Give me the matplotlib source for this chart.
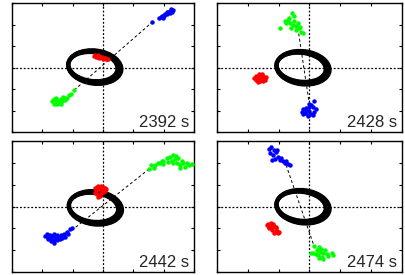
import matplotlib
matplotlib.use("Agg")
import matplotlib.pyplot as plt
from matplotlib.patches import Ellipse
from matplotlib.transforms import Affine2D

plt.rcParams['font.family'] = ['Liberation Sans', 'DejaVu Sans']

# ---------------- data (axis units, range -3..3) ----------------
labels = ["2392 s", "2428 s", "2442 s", "2474 s"]

# panel 1
blue1_x = [1.63, 1.85, 1.90, 1.95, 2.0, 2.05, 2.1, 2.15, 2.2, 2.25, 2.3, 2.0, 2.1, 2.2, 2.28, 1.97, 2.12, 2.24]
blue1_y = [2.12, 2.28, 2.35, 2.38, 2.45, 2.5, 2.55, 2.6, 2.62, 2.65, 2.68, 2.4, 2.48, 2.55, 2.6, 2.32, 2.6, 2.7]
red1_x = [-0.30, -0.25, -0.2, -0.15, -0.1, -0.05, 0.0, 0.05, 0.1, 0.15, -0.22, -0.12, -0.02, 0.08, -0.18, 0.0]
red1_y = [0.55, 0.58, 0.52, 0.56, 0.5, 0.48, 0.45, 0.42, 0.4, 0.38, 0.48, 0.44, 0.5, 0.45, 0.5, 0.38]
green1_x = [-1.68, -1.62, -1.55, -1.5, -1.45, -1.4, -1.35, -1.3, -1.25, -1.6, -1.5, -1.42, -1.32, -1.2, -1.12, -1.05, -0.96, -1.55, -1.38]
green1_y = [-1.55, -1.48, -1.6, -1.5, -1.65, -1.45, -1.55, -1.4, -1.5, -1.7, -1.72, -1.62, -1.35, -1.42, -1.3, -1.25, -1.06, -1.4, -1.68]
line1_x = [-0.95, 1.6]
line1_y = [-1.05, 2.08]

# panel 2
green2_x = [-0.56, -0.49, -0.81, -0.70, -0.63, -0.54, -0.43, -0.33, -0.27, -0.22, -0.95, -0.76, -0.60, -0.43, -0.38, -0.30, -0.65, -0.49]
green2_y = [2.54, 2.38, 2.17, 2.20, 2.08, 1.97, 1.92, 1.82, 1.66, 1.62, 1.82, 2.05, 1.82, 1.74, 2.05, 1.89, 2.28, 2.17]
red2_x = [-1.8, -1.75, -1.7, -1.65, -1.6, -1.55, -1.5, -1.45, -1.4, -1.7, -1.6, -1.5, -1.65, -1.55, -1.75, -1.45, -1.6, -1.68, -1.52]
red2_y = [-0.48, -0.38, -0.6, -0.45, -0.35, -0.55, -0.42, -0.5, -0.45, -0.52, -0.65, -0.62, -0.3, -0.3, -0.58, -0.58, -0.48, -0.68, -0.38]
blue2_x = [0.13, 0.05, 0.0, -0.1, -0.2, -0.25, -0.15, -0.05, 0.05, 0.15, 0.2, -0.1, 0.0, 0.1, -0.2, -0.05, 0.1, 0.0]
blue2_y = [-1.57, -1.75, -1.85, -1.9, -1.95, -2.05, -2.1, -2.2, -2.15, -2.05, -1.95, -2.0, -2.0, -1.85, -2.15, -2.25, -2.2, -1.7]
line2_x = [-0.35, -0.02]
line2_y = [1.58, -1.57]

# panel 3
green3_x = [1.53, 1.71, 1.88, 1.99, 1.57, 1.68, 1.82, 1.93, 1.97, 2.10, 2.15, 2.21, 2.26, 2.32, 2.37, 2.43, 2.48,
            2.54, 2.59, 2.65, 2.70, 2.78, 2.85, 2.92, 2.54, 2.30, 2.41]
green3_y = [1.73, 1.89, 1.99, 2.08, 1.90, 1.75, 1.98, 2.10, 1.95, 2.21, 2.05, 2.25, 2.10, 2.36, 2.16, 1.98, 2.21,
            1.90, 2.10, 1.98, 1.82, 2.00, 1.90, 1.95, 1.75, 2.00, 2.31]
red3_x = [-0.25, -0.2, -0.15, -0.1, -0.05, 0.0, 0.05, 0.1, -0.22, -0.12, -0.02, 0.08, -0.28, -0.2, -0.1, -0.05, -0.15, 0.0]
red3_y = [0.85, 0.9, 0.95, 0.9, 0.92, 0.88, 0.85, 0.82, 0.75, 0.78, 0.75, 0.72, 0.62, 0.55, 0.5, 0.6, 0.42, 0.65]
blue3_x = [-1.9, -1.85, -1.8, -1.75, -1.7, -1.65, -1.6, -1.55, -1.5, -1.45, -1.4, -1.35, -1.8, -1.7, -1.6, -1.5,
           -1.3, -1.25, -1.2, -1.15, -1.1, -1.02, -1.62, -1.42]
blue3_y = [-1.35, -1.28, -1.42, -1.3, -1.45, -1.35, -1.52, -1.4, -1.55, -1.38, -1.3, -1.45, -1.5, -1.6, -1.65, -1.3,
           -1.25, -1.38, -1.15, -1.28, -1.05, -0.98, -1.25, -1.5]
line3_x = [-1.04, 1.54]
line3_y = [-1.10, 1.74]

# panel 4
blue4_x = [-1.31, -1.24, -1.16, -1.29, -1.18, -1.08, -1.02, -1.13, -0.97, -0.86, -0.80, -0.70, -0.64, -1.21, -0.91, -0.75, -1.05]
blue4_y = [2.65, 2.73, 2.57, 2.45, 2.34, 2.50, 2.27, 2.19, 2.11, 2.08, 1.99, 1.96, 1.89, 2.11, 2.24, 2.08, 2.60]
red4_x = [-1.38, -1.35, -1.3, -1.25, -1.2, -1.15, -1.1, -1.05, -1.0, -1.3, -1.2, -1.12, -1.25, -1.15, -1.08, -1.02, -1.32, -1.18]
red4_y = [-0.85, -0.78, -0.92, -0.82, -0.95, -0.88, -1.0, -1.1, -1.15, -1.0, -1.08, -1.18, -0.75, -1.2, -0.95, -1.22, -0.95, -0.8]
green4_x = [0.04, 0.12, 0.23, 0.29, 0.34, 0.40, 0.45, 0.50, 0.32, 0.43, 0.56, 0.61, 0.72, 0.77, 0.21, 0.36, 0.15, 0.30]
green4_y = [-2.14, -2.12, -1.99, -2.22, -2.07, -2.30, -2.14, -1.99, -2.37, -2.42, -2.18, -2.27, -2.14, -2.24, -2.18, -1.96, -1.80, -1.85]
line4_x = [-0.76, 0.16]
line4_y = [1.90, -1.86]

# ellipse (orbit) centres in axis units
orbit_cx = [-0.30, -0.24, -0.28, -0.24]
orbit_cy = [0.03, 0.00, -0.05, 0.00]

panels = [
    (blue1_x, blue1_y, red1_x, red1_y, green1_x, green1_y, line1_x, line1_y),
    (blue2_x, blue2_y, red2_x, red2_y, green2_x, green2_y, line2_x, line2_y),
    (blue3_x, blue3_y, red3_x, red3_y, green3_x, green3_y, line3_x, line3_y),
    (blue4_x, blue4_y, red4_x, red4_y, green4_x, green4_y, line4_x, line4_y),
]

# ---------------- layout ----------------
W, H = 406, 275
fig = plt.figure(figsize=(W / 100, H / 100), dpi=100)
rects = [
    (12, 3, 182, 129),
    (217, 3, 185, 129),
    (12, 141, 182, 131),
    (217, 141, 185, 131),
]

# orbit look (pixel units)
orbit_a = 25.8
orbit_b = 15.6
orbit_angle = -7
loop_d = [-2.6, -2.1, -1.6, -1.1, -0.6, -0.1, 0.4, 0.9, 1.4, 1.9, 2.4]

for i, (rx, ry, rw, rh) in enumerate(rects):
    ax = fig.add_axes([rx / W, 1 - (ry + rh) / H, rw / W, rh / H])
    ax.set_xlim(-3, 3)
    ax.set_ylim(-3, 3)
    ax.set_xticks([-3, -2, -1, 0, 1, 2, 3])
    ax.set_yticks([-3, -2, -1, 0, 1, 2, 3])
    ax.set_xticklabels([])
    ax.set_yticklabels([])
    ax.tick_params(direction='in', length=2.5, width=0.8, top=True, right=True, colors='black')
    for s in ax.spines.values():
        s.set_linewidth(1.0)
        s.set_color('black')

    # crosshair
    ax.axhline(0, color='black', lw=0.9, ls=(0, (1.5, 1.5)), zorder=1)
    ax.axvline(0, color='black', lw=0.9, ls=(0, (1.5, 1.5)), zorder=1)

    # orbit loops (in pixel-proportional coords)
    sx = rw / 6.0
    sy = rh / 6.0
    tr = Affine2D().scale(1 / sx, 1 / sy) + ax.transData
    for d in loop_d:
        e = Ellipse((orbit_cx[i] * sx + 0.35 * d, orbit_cy[i] * sy - 0.1 * d),
                    2 * (orbit_a + d), 2 * (orbit_b + d), angle=orbit_angle,
                    fill=False, edgecolor='black', lw=1.0, transform=tr, zorder=2)
        ax.add_patch(e)

    bx, by, rdx, rdy, gx, gy, lx, ly = panels[i]
    ax.plot(lx, ly, color='black', lw=0.7, ls=(0, (3, 2.5)), zorder=3)
    ms = 3.2
    ax.plot(gx, gy, 'o', color='#00ff00', ms=ms, mec='none', zorder=4)
    ax.plot(bx, by, 'o', color='#0000ff', ms=ms, mec='none', zorder=4)
    ax.plot(rdx, rdy, 'o', color='#ff0000', ms=ms, mec='none', zorder=4)

    ax.text(1 - 4.5 / rw, 5.0 / rh, labels[i], transform=ax.transAxes,
            ha='right', va='baseline', fontsize=12, color='#262626')

fig.savefig('out.png', dpi=100)
